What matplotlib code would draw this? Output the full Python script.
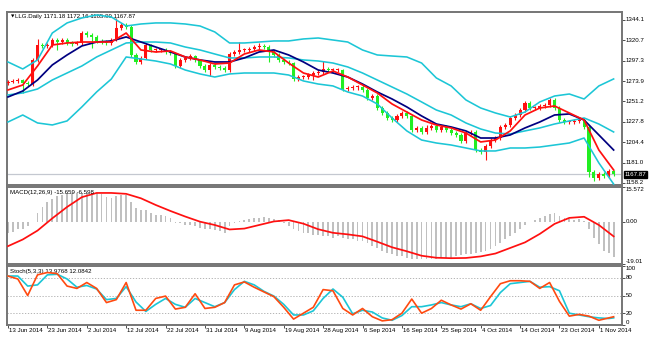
import numpy as np
import matplotlib
matplotlib.use('Agg')
import matplotlib.pyplot as plt

#### Daily bars #####################################
opens = [1271.5, 1273.2, 1274.4, 1275.5, 1272.1, 1270.9, 1298.4, 1315.5, 1314.4, 1315.5,
         1321.2, 1318.9, 1321.2, 1317.8, 1316.7, 1317.8, 1329.2, 1326.9, 1324.7, 1320.1,
         1318.9, 1317.8, 1321.2, 1334.9, 1338.4, 1336.1, 1304.1, 1296.1, 1300.7, 1315.5,
         1309.8, 1309.8, 1309.8, 1307.5, 1306.4, 1291.5, 1298.4, 1300.7, 1302.9, 1298.4,
         1291.5, 1286.9, 1292.7, 1290.4, 1289.2, 1286.9, 1305.2, 1307.5, 1309.8, 1309.8,
         1310.9, 1313.2, 1314.4, 1313.2, 1307.5, 1304.1, 1298.4, 1296.1, 1294.9, 1276.7,
         1278.9, 1278.9, 1281.2, 1283.5, 1284.7, 1288.1, 1286.9, 1286.9, 1286.9, 1265.2,
         1266.4, 1267.5, 1267.5, 1264.1, 1254.9, 1257.2, 1243.5, 1237.8, 1232.1, 1229.8,
         1234.4, 1237.8, 1234.4, 1218.4, 1220.7, 1216.1, 1220.7, 1222.9, 1218.4, 1221.8,
         1218.4, 1214.9, 1212.7, 1205.8, 1214.9, 1216.1, 1195.5, 1193.2, 1200.1, 1206.9,
         1209.2, 1221.8, 1224.1, 1232.1, 1235.5, 1241.2, 1249.2, 1243.5, 1243.5, 1245.8,
         1246.9, 1252.7, 1243.5, 1229.8, 1227.5, 1227.5, 1228.7, 1229.8, 1221.8, 1170.4,
         1163.5, 1168.1, 1165.8, 1171.18]
highs = [1275.0, 1276.2, 1277.5, 1277.0, 1274.0, 1300.5, 1322.4, 1318.0, 1317.5, 1324.0,
         1323.5, 1323.5, 1323.0, 1319.5, 1320.0, 1332.0, 1331.5, 1329.0, 1326.5, 1322.5,
         1321.0, 1323.5, 1346.4, 1341.0, 1340.5, 1338.5, 1306.0, 1303.0, 1318.0, 1317.0,
         1312.0, 1312.0, 1311.5, 1309.5, 1308.0, 1301.0, 1302.5, 1305.0, 1304.5, 1300.0,
         1293.5, 1295.0, 1294.5, 1292.5, 1291.0, 1307.0, 1309.5, 1318.5, 1312.0, 1313.0,
         1316.0, 1318.0, 1316.5, 1315.0, 1309.5, 1306.0, 1300.5, 1298.5, 1296.5, 1281.0,
         1281.5, 1283.5, 1286.0, 1287.0, 1297.0, 1290.5, 1289.5, 1289.0, 1288.5, 1268.5,
         1270.0, 1270.0, 1269.5, 1266.0, 1259.5, 1259.0, 1246.0, 1240.0, 1234.5, 1236.5,
         1240.0, 1240.0, 1236.0, 1223.0, 1222.5, 1223.5, 1225.0, 1224.5, 1224.0, 1223.5,
         1220.5, 1217.0, 1214.5, 1217.0, 1218.5, 1218.0, 1197.5, 1202.5, 1209.0, 1211.5,
         1224.0, 1226.5, 1234.5, 1238.0, 1243.5, 1251.5, 1251.0, 1246.0, 1248.0, 1249.0,
         1255.0, 1254.5, 1245.5, 1232.0, 1230.0, 1231.0, 1232.0, 1231.5, 1223.5, 1172.5,
         1170.5, 1170.0, 1173.5, 1172.16]
lows = [1269.8, 1271.5, 1272.5, 1260.7, 1268.5, 1269.0, 1296.5, 1312.0, 1312.5, 1313.5,
        1310.0, 1316.5, 1315.5, 1314.5, 1315.0, 1316.0, 1324.5, 1312.0, 1318.0, 1316.5,
        1315.5, 1315.5, 1319.5, 1332.5, 1333.5, 1301.5, 1293.5, 1294.0, 1299.0, 1307.5,
        1307.5, 1307.0, 1305.5, 1304.0, 1289.5, 1289.5, 1296.5, 1298.5, 1296.5, 1289.5,
        1284.5, 1280.0, 1288.5, 1287.0, 1284.5, 1285.0, 1303.0, 1305.5, 1307.5, 1307.5,
        1308.5, 1311.0, 1311.0, 1296.0, 1302.0, 1296.5, 1294.0, 1292.5, 1274.5, 1274.0,
        1276.5, 1277.0, 1276.0, 1281.5, 1282.5, 1285.0, 1284.5, 1284.5, 1263.0, 1263.0,
        1264.0, 1264.0, 1262.0, 1253.0, 1252.5, 1241.5, 1235.5, 1230.0, 1227.5, 1227.5,
        1232.5, 1232.0, 1216.0, 1216.5, 1213.5, 1214.0, 1218.5, 1216.0, 1216.5, 1216.0,
        1212.5, 1210.5, 1203.5, 1204.0, 1212.5, 1193.5, 1191.0, 1183.5, 1198.0, 1204.5,
        1207.0, 1219.5, 1222.0, 1230.0, 1233.5, 1239.0, 1241.5, 1241.0, 1241.5, 1243.5,
        1244.5, 1241.5, 1227.5, 1225.5, 1225.0, 1225.5, 1226.5, 1219.5, 1165.0, 1159.5,
        1161.5, 1163.5, 1163.5, 1165.99]
closes = [1273.2, 1274.4, 1275.5, 1272.1, 1270.9, 1298.4, 1315.5, 1314.4, 1315.5, 1321.2,
          1318.9, 1321.2, 1317.8, 1316.7, 1317.8, 1329.2, 1326.9, 1324.7, 1320.1, 1318.9,
          1317.8, 1321.2, 1334.9, 1338.4, 1336.1, 1304.1, 1296.1, 1300.7, 1315.5, 1309.8,
          1309.8, 1309.8, 1307.5, 1306.4, 1291.5, 1298.4, 1300.7, 1302.9, 1298.4, 1291.5,
          1286.9, 1292.7, 1290.4, 1289.2, 1286.9, 1305.2, 1307.5, 1309.8, 1309.8, 1310.9,
          1313.2, 1314.4, 1313.2, 1307.5, 1304.1, 1298.4, 1296.1, 1294.9, 1276.7, 1278.9,
          1278.9, 1281.2, 1283.5, 1284.7, 1288.1, 1286.9, 1286.9, 1286.9, 1265.2, 1266.4,
          1267.5, 1267.5, 1264.1, 1254.9, 1257.2, 1243.5, 1237.8, 1232.1, 1229.8, 1234.4,
          1237.8, 1234.4, 1218.4, 1220.7, 1216.1, 1220.7, 1222.9, 1218.4, 1221.8, 1218.4,
          1214.9, 1212.7, 1205.8, 1214.9, 1216.1, 1195.5, 1193.2, 1200.1, 1206.9, 1209.2,
          1221.8, 1224.1, 1232.1, 1235.5, 1241.2, 1249.2, 1243.5, 1243.5, 1245.8, 1246.9,
          1252.7, 1243.5, 1229.8, 1227.5, 1227.5, 1228.7, 1229.8, 1221.8, 1170.4, 1163.5,
          1168.1, 1165.8, 1171.18, 1167.87]

date_labels = ['13 Jun 2014', '23 Jun 2014', '2 Jul 2014', '12 Jul 2014', '22 Jul 2014',
               '31 Jul 2014', '9 Aug 2014', '19 Aug 2014', '28 Aug 2014', '6 Sep 2014',
               '16 Sep 2014', '25 Sep 2014', '4 Oct 2014', '14 Oct 2014', '23 Oct 2014',
               '1 Nov 2014']
date_step = 8

#### Price overlays, one value every 3rd bar ########
ov_step = 3
ma_fast = [1264.1, 1269.8, 1291.5, 1315.5, 1317.8, 1318.9, 1318.9, 1318.9, 1329.2, 1309.8,
           1307.5, 1308.7, 1301.8, 1298.4, 1293.8, 1294.9, 1305.2, 1309.8, 1307.5, 1294.9,
           1283.5, 1278.9, 1285.8, 1278.9, 1269.8, 1260.7, 1248.1, 1238.9, 1229.8, 1224.1,
           1220.7, 1214.9, 1204.7, 1206.9, 1217.3, 1235.5, 1243.5, 1245.8, 1237.8, 1229.8,
           1195.5, 1172.7]
ma_slow = [1256.1, 1262.9, 1275.5, 1292.7, 1304.1, 1314.4, 1318.9, 1320.1, 1324.7, 1318.9,
           1313.2, 1307.5, 1301.8, 1298.4, 1296.1, 1296.1, 1300.7, 1307.5, 1309.8, 1304.1,
           1296.1, 1286.9, 1283.5, 1278.9, 1270.9, 1261.8, 1253.8, 1244.7, 1234.4, 1225.2,
           1221.8, 1217.3, 1209.2, 1209.2, 1212.7, 1220.7, 1227.5, 1235.5, 1236.7, 1229.8,
           1212.7, 1195.5]
bb_upper = [1296.1, 1288.1, 1298.4, 1329.2, 1340.7, 1346.4, 1349.8, 1347.5, 1337.2, 1339.5,
            1340.7, 1340.7, 1339.5, 1337.2, 1330.4, 1317.8, 1317.8, 1318.9, 1320.1, 1320.1,
            1322.4, 1323.5, 1321.2, 1318.9, 1309.8, 1304.1, 1302.9, 1301.8, 1294.9, 1277.8,
            1268.7, 1252.7, 1243.5, 1237.8, 1233.2, 1238.9, 1250.4, 1257.2, 1259.5, 1253.8,
            1268.7, 1276.7]
bb_middle = [1258.4, 1260.7, 1265.2, 1275.5, 1283.5, 1291.5, 1301.8, 1309.8, 1317.8, 1318.9,
             1318.9, 1317.8, 1313.2, 1309.8, 1305.2, 1300.7, 1300.7, 1301.8, 1301.8, 1300.7,
             1298.4, 1297.2, 1294.9, 1290.4, 1283.5, 1275.5, 1267.5, 1259.5, 1250.4, 1241.2,
             1235.5, 1226.4, 1219.5, 1214.9, 1213.8, 1217.3, 1220.7, 1225.2, 1228.7, 1232.1,
             1225.2, 1216.1]
bb_lower = [1227.5, 1235.5, 1226.4, 1224.1, 1228.7, 1244.7, 1261.8, 1276.7, 1301.8, 1299.5,
            1297.2, 1293.8, 1286.9, 1282.4, 1278.9, 1282.4, 1283.5, 1283.5, 1283.5, 1281.2,
            1274.4, 1270.9, 1268.7, 1261.8, 1257.2, 1248.1, 1232.1, 1217.3, 1206.9, 1203.5,
            1201.2, 1197.8, 1194.4, 1194.4, 1197.8, 1197.8, 1198.9, 1201.2, 1203.5, 1209.2,
            1180.7, 1156.6]
price_ticks = [1344.1, 1320.7, 1297.3, 1273.9, 1251.2, 1227.8, 1204.4, 1181.0, 1158.2]

#### MACD(12,26,9) ##################################
macd_main = [-5.0, -4.7, -3.5, -3.2, -2.1, -0.3, 3.8, 6.8, 9.0, 10.0,
             11.5, 12.0, 12.7, 12.7, 13.0, 13.0, 13.0, 12.7, 13.0, 12.4,
             11.2, 10.5, 11.5, 12.0, 12.0, 9.0, 6.1, 5.3, 5.3, 3.8,
             3.1, 3.1, 2.4, 1.6, -0.6, -0.6, -1.3, -1.3, -2.1, -2.8,
             -3.1, -3.5, -3.9, -4.3, -5.0, -2.0, -0.6, 0.1, 0.9, 1.2,
             1.6, 1.6, 1.9, 1.6, 1.2, 0.9, -0.6, -2.1, -3.5, -4.3,
             -5.0, -5.0, -5.8, -5.8, -6.5, -6.5, -7.2, -6.5, -7.2, -8.0,
             -8.0, -8.7, -8.7, -9.5, -10.9, -11.7, -13.1, -13.9, -14.6, -15.4,
             -15.4, -16.1, -16.8, -16.8, -16.8, -16.8, -16.8, -16.8, -16.5, -16.1,
             -16.1, -15.4, -15.1, -14.6, -14.6, -13.9, -13.6, -13.1, -12.4, -10.9,
             -9.5, -8.0, -6.5, -5.0, -3.5, -1.3, -0.3, 0.9, 1.6, 2.7,
             3.5, 3.8, 2.7, 1.6, 1.2, 0.9, 1.2, 0.1, -3.5, -7.2,
             -10.2, -13.1, -13.9, -15.659]
macd_signal = [-11.0, -8.0, -4.0, 1.5, 6.6, 11.0, 12.9, 12.9, 12.5, 10.5,
               7.5, 4.8, 2.3, 0.0, -1.5, -3.5, -3.1, -1.5, 0.1, 0.7,
               -0.9, -3.4, -5.0, -5.7, -6.6, -9.0, -11.5, -13.3, -15.3, -16.2,
               -16.4, -16.3, -15.6, -14.3, -11.8, -9.3, -5.5, -1.0, 1.7, 2.2,
               -1.5, -6.598]
macd_max, macd_min = 15.572, -19.01

#### Stochastic(5,3,3), one value every 2nd bar #####
stoch_k = [83, 78, 50, 85, 89, 87, 66, 62, 72, 62,
           38, 43, 72, 25, 25, 45, 49, 27, 30, 53,
           28, 30, 38, 68, 73, 64, 56, 48, 30, 10,
           20, 30, 60, 58, 28, 17, 28, 14, 7, 9,
           20, 44, 20, 28, 42, 34, 27, 36, 25, 48,
           70, 75, 75, 74, 62, 72, 40, 15, 18, 15,
           8, 12, 13.9768]
stoch_d = [83, 83, 66, 68, 85, 86, 78, 64, 67, 61,
           43, 45, 65, 39, 23, 35, 45, 35, 30, 45,
           38, 31, 38, 60, 74, 68, 57, 49, 35, 17,
           17, 24, 45, 61, 47, 19, 25, 22, 12, 8,
           16, 31, 31, 34, 38, 34, 31, 36, 28, 33,
           55, 70, 72, 74, 64, 65, 58, 20, 17, 14,
           12, 11, 12.0842]
#####################################################

BULL = '#ff1010'
BEAR = '#22ee22'
CYAN = '#1cc6d6'
NAVY = '#000080'
FRAME = '#757575'
FS = 4.4
FONT = ['Liberation Sans', 'DejaVu Sans']
plt.rcParams['font.family'] = FONT

W, H = 655.0, 342.0


def box(x0, y0, x1, y1):
    # pixel box -> figure fraction rect
    return [x0 / W, 1 - y1 / H, (x1 - x0) / W, (y1 - y0) / H]


def right_label(ax, v, s, va='center', **kw):
    ax.text(1.006, v, s, transform=ax.get_yaxis_transform(), fontsize=FS,
            ha='left', va=va, clip_on=False, **kw)


fig = plt.figure(figsize=(6.55, 3.42), dpi=100)
ax_p = fig.add_axes(box(7, 12, 622, 185))
ax_m = fig.add_axes(box(7, 187, 622, 264))
ax_s = fig.add_axes(box(7, 266, 622, 325))

n = len(closes)
idx = np.arange(n)
for ax in (ax_p, ax_m, ax_s):
    ax.set_xlim(-0.2, 124.7)
    ax.set_facecolor('white')
    for sp in ax.spines.values():
        sp.set_color(FRAME)
        sp.set_linewidth(1.4)
    ax.tick_params(axis='x', which='both', bottom=False, labelbottom=False)
    ax.tick_params(axis='y', which='both', left=False, labelleft=False, right=True,
                   labelright=False, direction='out', length=2.5, width=0.6, color='#303030')

# ---- price panel ----
ax_p.set_ylim(1155.5, 1353.2)
o = np.array(opens)
c = np.array(closes)
col = np.where(c >= o, BULL, BEAR)
ax_p.vlines(idx, lows, highs, colors=col, lw=0.8, zorder=3)
ax_p.bar(idx, np.maximum(np.abs(c - o), 0.7), bottom=np.minimum(o, c), width=0.62,
         color=col, lw=0, zorder=3)

ov_idx = np.arange(0, n, ov_step)
for band in (bb_upper, bb_middle, bb_lower):
    ax_p.plot(ov_idx, band, color=CYAN, lw=1.15, zorder=4)
ax_p.plot(ov_idx, ma_slow, color=NAVY, lw=1.25, zorder=5)
ax_p.plot(ov_idx, ma_fast, color=BULL, lw=1.25, zorder=6)

ax_p.axhline(closes[-1], color='#c4c8d0', lw=0.9, zorder=2)
ax_p.set_yticks(price_ticks)
for v in price_ticks:
    right_label(ax_p, v, '%.1f' % v)
ax_p.text(1.004, closes[-1], '%.2f' % closes[-1], transform=ax_p.get_yaxis_transform(),
          fontsize=FS, color='white', ha='left', va='center', clip_on=False,
          bbox=dict(boxstyle='square,pad=0.15', fc='black', ec='black'))

ax_p.text(0.0065, 0.975, '\u25bc', transform=ax_p.transAxes, fontsize=3.2,
          family='DejaVu Sans', va='center', ha='left')
ax_p.text(0.0135, 0.975, 'LLG.Daily %.2f %.2f %.2f %.2f' % (opens[-1], highs[-1], lows[-1], closes[-1]),
          transform=ax_p.transAxes, fontsize=FS, va='center', ha='left')

# ---- MACD panel ----
ax_m.set_ylim(macd_min, macd_max)
ax_m.bar(idx, macd_main, width=0.36, color='#c0c0c0', lw=0, zorder=2)
ax_m.plot(ov_idx, macd_signal, color=BULL, lw=1.25, zorder=3)
ax_m.set_yticks([macd_max, 0.0, macd_min])
right_label(ax_m, macd_max, '%.3f' % macd_max, va='top')
right_label(ax_m, 0.0, '0.00')
right_label(ax_m, macd_min, '%.2f' % macd_min, va='bottom')
ax_m.text(0.005, 0.925, 'MACD(12,26,9) %.3f %.3f' % (macd_main[-1], macd_signal[-1]),
          transform=ax_m.transAxes, fontsize=FS, va='center', ha='left')

# ---- Stochastic panel ----
ax_s.set_ylim(0, 100)
for lvl in (20, 50, 80):
    ax_s.axhline(lvl, color='#a8a8a8', lw=0.6, ls=(0, (1.5, 2)), zorder=1)
st_idx = np.append(np.arange(0, n - 1, 2), n - 1)
ax_s.plot(st_idx, stoch_d, color=CYAN, lw=1.2, zorder=3)
ax_s.plot(st_idx, stoch_k, color='#ff4a10', lw=1.2, zorder=4)
ax_s.set_yticks([100, 80, 50, 20, 0])
right_label(ax_s, 100, '100', va='top')
for v in (80, 50, 20):
    right_label(ax_s, v, str(v))
right_label(ax_s, 0, '0', va='bottom')
ax_s.text(0.005, 0.9, 'Stoch(5,3,3) %.4f %.4f' % (stoch_k[-1], stoch_d[-1]),
          transform=ax_s.transAxes, fontsize=FS, va='center', ha='left')

# date axis under the last panel
date_pos = np.arange(len(date_labels)) * date_step
ax_s.set_xticks(date_pos)
ax_s.tick_params(axis='x', bottom=True, direction='out', length=2.5, width=0.6, color='#303030')
for p, lab in zip(date_pos, date_labels):
    ax_s.annotate(lab, xy=(p, 0), xycoords=('data', 'axes fraction'), xytext=(0.8, -2.0),
                  textcoords='offset points', fontsize=FS, ha='left', va='top',
                  annotation_clip=False)

fig.savefig('out.png', dpi=100)
